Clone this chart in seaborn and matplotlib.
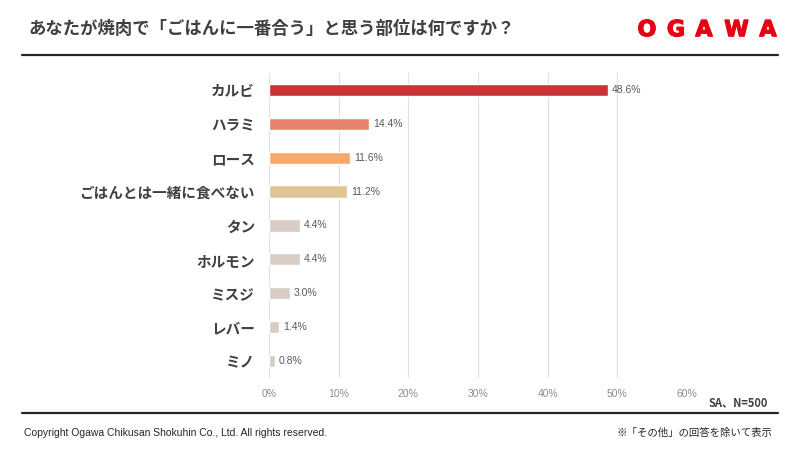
import pandas as pd
import numpy as np
import matplotlib
matplotlib.use('Agg')
import matplotlib.pyplot as plt
import matplotlib.patheffects as pe
import seaborn as sns

# data
parts = ['カルビ', 'ハラミ', 'ロース', 'ごはんとは一緒に食べない', 'タン', 'ホルモン', 'ミスジ', 'レバー', 'ミノ']
shares = [48.6, 14.4, 11.6, 11.2, 4.4, 4.4, 3.0, 1.4, 0.8]
bar_colors = ['#CB3335', '#E8826A', '#F5A96B', '#E2C594', '#D9CCC5', '#D9CCC5', '#D9CCC5', '#D9CCC5', '#D9CCC5']
x_ticks = [0, 10, 20, 30, 40, 50, 60]
logo = 'OGAWA'

sns.set_style('white')
plt.rcParams['font.family'] = ['Noto Sans CJK JP', 'DejaVu Sans']

df = pd.DataFrame({'part': parts, 'share': shares})

fig = plt.figure(figsize=(8, 4.5), dpi=100)
ax = fig.add_axes([0.33625, 0.16, 0.5225, 0.678])

sns.barplot(data=df, x='share', y='part', hue='part', palette=bar_colors,
            saturation=1, legend=False, width=0.36, ax=ax, zorder=3)

ax.set_xlim(0, 60)
ax.set_xticks(x_ticks)
ax.set_xticklabels([f'{t}%' for t in x_ticks], fontsize=7.5, color='#8C8C8C',
                   family=['Liberation Sans', 'DejaVu Sans'])
ax.tick_params(axis='x', length=0, pad=8)
ax.tick_params(axis='y', length=0, pad=10)
for lab in ax.get_yticklabels():
    lab.set_fontsize(10.5)
    lab.set_fontweight('bold')
    lab.set_color('#404040')
ax.set_xlabel('')
ax.set_ylabel('')
ax.grid(axis='x', color='#E0E0E0', linewidth=0.8, zorder=0)
ax.grid(axis='y', visible=False)
for s in ax.spines.values():
    s.set_visible(False)

for i, v in enumerate(shares):
    ax.text(v + 0.6, i, f'{v:.1f}%', va='center', ha='left', fontsize=7.5,
            color='#595959', family=['Liberation Sans', 'DejaVu Sans'], clip_on=False)

# header / footer
fig.text(0.035, 0.935, 'あなたが焼肉で「ごはんに一番合う」と思う部位は何ですか？',
         fontsize=12.5, fontweight='bold', color='#404040', va='center', ha='left')
# logo letters spaced out and thickened a little like the brand mark
logo_x = [647, 676, 704, 736.5, 768]
for ch, lx in zip(logo, logo_x):
    fig.text(lx / 800, 0.933, ch, fontsize=16, fontweight='bold', color='#E60012',
             va='center', ha='center', family=['DejaVu Sans'],
             path_effects=[pe.withStroke(linewidth=0.9, foreground='#E60012')])
fig.add_artist(plt.Line2D([0.028, 0.972], [0.878, 0.878], color='#262626', linewidth=1.6))
fig.add_artist(plt.Line2D([0.028, 0.972], [0.082, 0.082], color='#262626', linewidth=1.6))

fig.text(0.96, 0.105, 'SA、N=500', fontsize=8, fontweight='bold', color='#404040',
         ha='right', va='center')
fig.text(0.03, 0.038, 'Copyright Ogawa Chikusan Shokuhin Co., Ltd. All rights reserved.',
         fontsize=7.5, color='#262626', ha='left', va='center',
         family=['Liberation Sans', 'DejaVu Sans'])
fig.text(0.965, 0.038, '※「その他」の回答を除いて表示', fontsize=7.5, color='#262626',
         ha='right', va='center')

plt.savefig('out.png', dpi=100)
plt.close()
